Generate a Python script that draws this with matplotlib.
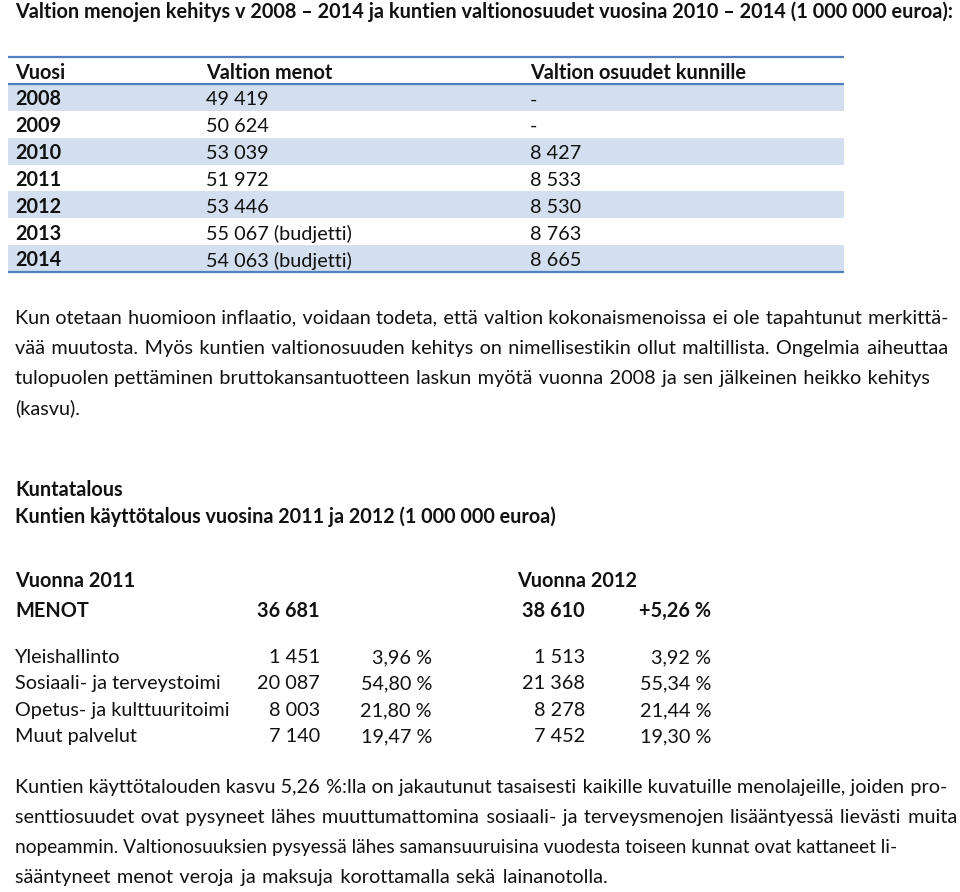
import matplotlib
matplotlib.use('Agg')
import matplotlib.pyplot as plt

# ---- data ----
title = 'Valtion menojen kehitys v 2008 – 2014 ja kuntien valtionosuudet vuosina 2010 – 2014 (1 000 000 euroa):'
headers = ['Vuosi', 'Valtion menot', 'Valtion osuudet kunnille']
years = ['2008', '2009', '2010', '2011', '2012', '2013', '2014']
menot = ['49 419', '50 624', '53 039', '51 972', '53 446', '55 067 (budjetti)', '54 063 (budjetti)']
osuudet = ['-', '-', '8 427', '8 533', '8 530', '8 763', '8 665']

para1 = ['Kun otetaan huomioon inflaatio, voidaan todeta, että valtion kokonaismenoissa ei ole tapahtunut merkittä-',
         'vää muutosta. Myös kuntien valtionosuuden kehitys on nimellisestikin ollut maltillista. Ongelmia aiheuttaa',
         'tulopuolen pettäminen bruttokansantuotteen laskun myötä vuonna 2008 ja sen jälkeinen heikko kehitys',
         '(kasvu).']
para1_right = [948, 948, 930, None]

heading1 = 'Kuntatalous'
heading2 = 'Kuntien käyttötalous vuosina 2011 ja 2012 (1 000 000 euroa)'

categories = ['Yleishallinto', 'Sosiaali- ja terveystoimi', 'Opetus- ja kulttuuritoimi', 'Muut palvelut']
v2011 = ['1 451', '20 087', '8 003', '7 140']
p2011 = ['3,96 %', '54,80 %', '21,80 %', '19,47 %']
v2012 = ['1 513', '21 368', '8 278', '7 452']
p2012 = ['3,92 %', '55,34 %', '21,44 %', '19,30 %']
menot2011 = '36 681'
menot2012 = '38 610'
muutos = '+5,26 %'

para2 = ['Kuntien käyttötalouden kasvu 5,26 %:lla on jakautunut tasaisesti kaikille kuvatuille menolajeille, joiden pro-',
         'senttiosuudet ovat pysyneet lähes muuttumattomina sosiaali- ja terveysmenojen lisääntyessä lievästi muita',
         'nopeammin. Valtionosuuksien pysyessä lähes samansuuruisina vuodesta toiseen kunnat ovat kattaneet li-',
         'sääntyneet menot veroja ja maksuja korottamalla sekä lainanotolla.']
para2_right = [947, 957, 862, 608]

# ---- setup ----
plt.rcParams['font.family'] = ['Lato', 'DejaVu Sans']
FS = 14.3
TXT = '#111111'
HAIR = '\u200a'
fig = plt.figure(figsize=(9.6, 8.92), dpi=100)
ax = fig.add_axes([0, 0, 1, 1])
ax.set_xlim(0, 960)
ax.set_ylim(892, 0)
ax.axis('off')
renderer = fig.canvas.get_renderer()


def width(s, size=FS, weight='normal'):
    t = ax.text(0, 0, s, fontsize=size, fontweight=weight)
    w = t.get_window_extent(renderer).width
    t.remove()
    return w


def line(x, y, s, right=None, bold=False):
    w = 'bold' if bold else 'normal'
    size = FS
    words = s.split(' ')
    n = len(words) - 1
    if right is not None and n > 0:
        natural = width(s, size, w)
        extra = right - x - natural
        hair = (width('a' + HAIR * 20 + 'a', size, w) - width('aa', size, w)) / 20
        if extra >= 0 and hair > 0.2:
            # pad spaces with hair spaces so the line ends at 'right'
            k = int(round(extra / hair))
            out = words[0]
            for i in range(n):
                out += ' ' + HAIR * (k * (i + 1) // n - k * i // n) + words[i + 1]
            s = out
        elif extra < 0:
            # a bit too long in this font: shrink slightly
            size = FS * max((right - x) / natural, 0.965)
    ax.text(x, y, s, fontsize=size, fontweight=w, color=TXT, va='baseline')


# title
line(15, 17.5, title, right=953, bold=True)

# ---- table 1 ----
tx0, tx1 = 8, 844
top, head_bot = 57, 84
row_h = (272 - head_bot) / len(years)
for i, yr in enumerate(years):
    y0 = head_bot + i * row_h
    if i % 2 == 0:
        ax.fill_between([tx0, tx1], y0, y0 + row_h, color='#D3DFEE', lw=0)
    base = y0 + row_h - 5.5
    ax.text(15, base, yr, fontsize=FS, fontweight='bold', color=TXT, va='baseline')
    ax.text(206, base, menot[i], fontsize=FS, color=TXT, va='baseline')
    ax.text(530, base, osuudet[i], fontsize=FS, color=TXT, va='baseline')
for xh, h in zip([15, 206, 530], headers):
    ax.text(xh, head_bot - 5, h, fontsize=FS, fontweight='bold', color=TXT, va='baseline')
for yl in [top, head_bot, 272]:
    ax.plot([tx0, tx1], [yl, yl], color='#4F81BD', lw=1.6, solid_capstyle='butt')

# paragraph 1
for i, (s, r) in enumerate(zip(para1, para1_right)):
    line(15, 324 + 30 * i, s, right=r)

line(15, 496, heading1, bold=True)
line(15, 523, heading2, right=558, bold=True)

# ---- table 2 ----
ax.text(15, 587, 'Vuonna 2011', fontsize=FS, fontweight='bold', color=TXT, va='baseline')
ax.text(517, 587, 'Vuonna 2012', fontsize=FS, fontweight='bold', color=TXT, va='baseline')
ax.text(15, 617, 'MENOT', fontsize=FS, fontweight='bold', color=TXT, va='baseline')
ax.text(320, 617, menot2011, fontsize=FS, fontweight='bold', color=TXT, va='baseline', ha='right')
ax.text(585, 617, menot2012, fontsize=FS, fontweight='bold', color=TXT, va='baseline', ha='right')
ax.text(711, 617, muutos, fontsize=FS, fontweight='bold', color=TXT, va='baseline', ha='right')
row_base = [663, 689, 716, 742]
for i, c in enumerate(categories):
    b = row_base[i]
    ax.text(15, b, c, fontsize=FS, color=TXT, va='baseline')
    ax.text(320, b, v2011[i], fontsize=FS, color=TXT, va='baseline', ha='right')
    ax.text(432, b, p2011[i], fontsize=FS, color=TXT, va='baseline', ha='right')
    ax.text(585, b, v2012[i], fontsize=FS, color=TXT, va='baseline', ha='right')
    ax.text(711, b, p2012[i], fontsize=FS, color=TXT, va='baseline', ha='right')

# paragraph 2
for i, (s, r) in enumerate(zip(para2, para2_right)):
    line(15, 793 + 30 * i, s, right=r)

plt.savefig('out.png', dpi=100)
